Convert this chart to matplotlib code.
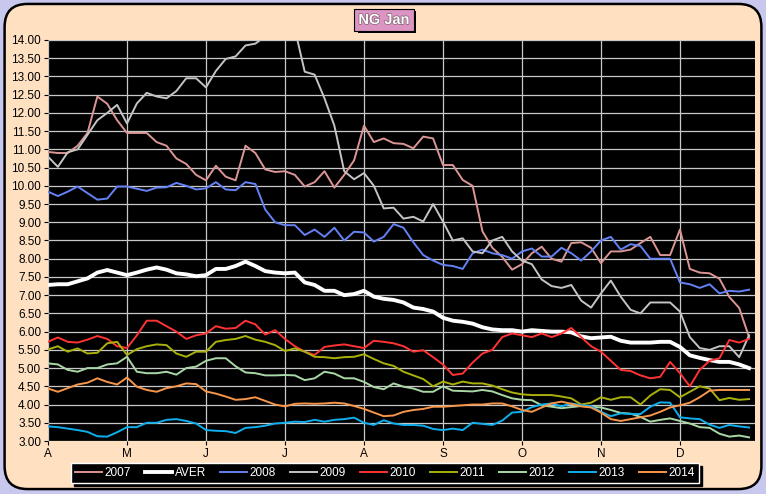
import numpy as np
import matplotlib
matplotlib.use("Agg")
import matplotlib.pyplot as plt
from matplotlib.patches import FancyBboxPatch, Rectangle
import matplotlib.patheffects as pe

# x in months from 1 April, sampled every 1/8 month
months = ['A', 'M', 'J', 'J', 'A', 'S', 'O', 'N', 'D']
x = np.arange(72) * 0.125

s2007 = [10.93, 10.9, 10.9, 11.1, 11.45, 12.45, 12.25, 11.8, 11.45, 11.45, 11.45, 11.2,
         11.1, 10.75, 10.6, 10.3, 10.15, 10.55, 10.25, 10.15, 11.1, 10.9, 10.45, 10.38,
         10.4, 10.3, 9.98, 10.1, 10.4, 9.95, 10.3, 10.7, 11.65, 11.2, 11.3, 11.17,
         11.15, 11.03, 11.35, 11.3, 10.57, 10.57, 10.16, 10.0, 8.75, 8.3, 8.05, 7.7,
         7.85, 8.15, 8.33, 8.0, 7.92, 8.43, 8.45, 8.3, 7.88, 8.2, 8.2, 8.25,
         8.43, 8.6, 8.1, 8.1, 8.8, 7.72, 7.62, 7.6, 7.45, 6.95, 6.65, 5.85]
aver = [7.28, 7.3, 7.3, 7.38, 7.46, 7.62, 7.69, 7.62, 7.55, 7.62, 7.7, 7.76,
        7.7, 7.6, 7.57, 7.52, 7.55, 7.72, 7.72, 7.8, 7.92, 7.8, 7.66, 7.62,
        7.6, 7.62, 7.35, 7.28, 7.12, 7.12, 7.0, 7.03, 7.12, 6.96, 6.9, 6.87,
        6.8, 6.66, 6.62, 6.55, 6.38, 6.3, 6.27, 6.22, 6.12, 6.06, 6.04, 6.04,
        6.0, 6.04, 6.02, 6.0, 6.0, 5.98, 5.87, 5.82, 5.84, 5.86, 5.75, 5.7,
        5.7, 5.7, 5.72, 5.72, 5.58, 5.35, 5.28, 5.22, 5.17, 5.17, 5.1, 5.0]
s2008 = [9.84, 9.72, 9.84, 9.98, 9.8, 9.62, 9.65, 9.98, 9.98, 9.92, 9.86, 9.95,
         9.96, 10.08, 10.0, 9.9, 9.93, 10.1, 9.9, 9.88, 10.1, 10.05, 9.35, 9.0,
         8.92, 8.92, 8.65, 8.8, 8.6, 8.85, 8.5, 8.74, 8.72, 8.47, 8.6, 8.95,
         8.85, 8.45, 8.1, 7.95, 7.83, 7.8, 7.72, 8.15, 8.25, 8.15, 8.1, 8.0,
         8.2, 8.28, 8.06, 8.06, 8.3, 8.15, 7.95, 8.2, 8.5, 8.6, 8.25, 8.4,
         8.35, 8.0, 8.0, 8.0, 7.35, 7.3, 7.2, 7.3, 7.05, 7.12, 7.1, 7.15]
s2009 = [10.8, 10.52, 10.92, 11.0, 11.4, 11.8, 12.0, 12.22, 11.71, 12.26, 12.55, 12.45,
         12.4, 12.6, 12.95, 12.95, 12.7, 13.15, 13.48, 13.55, 13.85, 13.9, 14.1, 14.3,
         14.4, 14.3, 13.13, 13.05, 12.4, 11.65, 10.4, 10.18, 10.35, 10.0, 9.38, 9.4,
         9.1, 9.15, 9.02, 9.5, 9.02, 8.5, 8.56, 8.2, 8.15, 8.5, 8.6, 8.2,
         7.95, 7.85, 7.43, 7.25, 7.2, 7.28, 6.85, 6.66, 7.05, 7.4, 6.96, 6.6,
         6.5, 6.8, 6.8, 6.8, 6.55, 5.85, 5.55, 5.5, 5.6, 5.6, 5.3, 5.9]
s2010 = [5.72, 5.84, 5.72, 5.7, 5.78, 5.88, 5.8, 5.6, 5.55, 5.9, 6.3, 6.3,
         6.15, 6.0, 5.8, 5.9, 5.95, 6.15, 6.08, 6.1, 6.3, 6.2, 5.92, 6.04,
         5.8, 5.6, 5.45, 5.36, 5.58, 5.62, 5.65, 5.6, 5.55, 5.75, 5.72, 5.68,
         5.6, 5.45, 5.49, 5.3, 5.1, 4.81, 4.85, 5.15, 5.4, 5.5, 5.85, 5.95,
         5.9, 5.85, 5.95, 5.85, 5.95, 6.1, 5.85, 5.6, 5.45, 5.2, 4.95, 4.92,
         4.8, 4.72, 4.76, 5.17, 4.86, 4.5, 4.95, 5.2, 5.27, 5.77, 5.7, 5.8]
s2011 = [5.51, 5.6, 5.45, 5.54, 5.4, 5.42, 5.68, 5.72, 5.36, 5.52, 5.6, 5.65,
         5.63, 5.4, 5.31, 5.45, 5.45, 5.72, 5.77, 5.8, 5.88, 5.78, 5.72, 5.63,
         5.47, 5.54, 5.45, 5.31, 5.3, 5.27, 5.3, 5.31, 5.38, 5.25, 5.13, 5.06,
         4.9, 4.8, 4.7, 4.5, 4.63, 4.55, 4.63, 4.58, 4.58, 4.52, 4.42, 4.33,
         4.28, 4.26, 4.26, 4.26, 4.22, 4.17, 4.0, 4.05, 4.2, 4.13, 4.2, 4.2,
         4.0, 4.25, 4.42, 4.4, 4.2, 4.35, 4.5, 4.44, 4.12, 4.18, 4.13, 4.15]
s2012 = [5.13, 5.1, 4.95, 4.9, 5.0, 5.0, 5.1, 5.13, 5.31, 4.9, 4.86, 4.86,
         4.9, 4.82, 5.0, 5.04, 5.2, 5.27, 5.27, 5.05, 4.88, 4.86, 4.8, 4.8,
         4.81, 4.8, 4.67, 4.72, 4.9, 4.85, 4.72, 4.72, 4.62, 4.48, 4.42, 4.58,
         4.49, 4.44, 4.35, 4.35, 4.5, 4.38, 4.37, 4.36, 4.4, 4.36, 4.26, 4.17,
         4.13, 4.12, 3.98, 3.94, 3.9, 3.93, 3.96, 3.94, 3.92, 3.85, 3.77, 3.75,
         3.66, 3.53, 3.58, 3.62, 3.55, 3.48, 3.38, 3.36, 3.2, 3.12, 3.15, 3.1]
s2013 = [3.4, 3.38, 3.34, 3.3, 3.25, 3.13, 3.12, 3.24, 3.38, 3.38, 3.5, 3.5,
         3.58, 3.6, 3.55, 3.48, 3.3, 3.28, 3.27, 3.22, 3.36, 3.38, 3.42, 3.48,
         3.5, 3.53, 3.52, 3.58, 3.53, 3.58, 3.6, 3.64, 3.5, 3.44, 3.57, 3.48,
         3.44, 3.44, 3.42, 3.33, 3.3, 3.34, 3.3, 3.5, 3.47, 3.44, 3.56, 3.78,
         3.8, 3.93, 4.0, 4.03, 3.95, 4.03, 3.98, 3.96, 3.8, 3.68, 3.76, 3.74,
         3.74, 3.94, 4.06, 4.05, 3.65, 3.62, 3.6, 3.45, 3.36, 3.44, 3.4, 3.37]
s2014 = [4.44, 4.35, 4.45, 4.55, 4.6, 4.72, 4.62, 4.55, 4.74, 4.49, 4.4, 4.35,
         4.45, 4.5, 4.58, 4.56, 4.36, 4.3, 4.22, 4.13, 4.15, 4.2, 4.1, 4.0,
         3.95, 4.02, 4.03, 4.02, 4.03, 4.05, 4.03, 3.96, 3.88, 3.78, 3.68, 3.7,
         3.8, 3.85, 3.88, 3.94, 3.94, 3.96, 3.98, 4.0, 4.0, 4.03, 4.03, 3.95,
         3.85, 3.8, 3.92, 4.03, 4.08, 4.02, 3.95, 3.92, 3.78, 3.6, 3.55, 3.6,
         3.65, 3.7, 3.8, 3.92, 3.98, 4.05, 4.2, 4.38, 4.4, 4.4, 4.4, 4.4]

series = [('2007', s2007, '#DA9694', 1.4),
          ('AVER', aver, 'white', 2.8),
          ('2008', s2008, '#6482F5', 1.4),
          ('2009', s2009, '#C4C4C4', 1.4),
          ('2010', s2010, '#FF3333', 1.4),
          ('2011', s2011, '#A9B10A', 1.4),
          ('2012', s2012, '#A9D8A6', 1.4),
          ('2013', s2013, '#10AEEC', 1.4),
          ('2014', s2014, '#F7964A', 1.4)]

plt.rcParams['font.family'] = ['Liberation Sans', 'DejaVu Sans']

fig = plt.figure(figsize=(7.66, 4.94), dpi=100)
fig.patch.set_facecolor('#C8C8EE')
# rounded peach frame behind everything
frame = FancyBboxPatch((0.006, 0.01), 0.988, 0.982, boxstyle='round,pad=0,rounding_size=0.03',
                       transform=fig.transFigure, facecolor='#FFE1C2', edgecolor='black',
                       linewidth=1.8, mutation_aspect=766 / 494, zorder=-10)
fig.patches.append(frame)

ax = fig.add_axes([48 / 766, 1 - 441 / 494, 707 / 766, 401 / 494])
ax.set_facecolor('black')

for name, vals, col, lw in series:
    ax.plot(x, vals, color=col, lw=lw, label=name, solid_joinstyle='round')

ax.set_xlim(0, 8.95)
ax.set_ylim(3, 14)
ax.set_yticks(np.arange(3, 14.01, 0.5))
ax.set_yticklabels([f'{v:.2f}' for v in np.arange(3, 14.01, 0.5)])
ax.set_xticks(np.arange(9))
ax.set_xticklabels(months)
ax.grid(True, color='#C8C8C8', lw=0.9)
ax.set_axisbelow(True)
for s in ax.spines.values():
    s.set_visible(False)
ax.tick_params(axis='both', labelsize=8.5, colors='black', length=3, width=0.8, pad=2)

# title box with a black drop shadow
fig.patches.append(Rectangle((358 / 766, 1 - 33 / 494), 58 / 766, 22 / 494,
                             transform=fig.transFigure, facecolor='black', zorder=1))
fig.text(384 / 766, 1 - 20 / 494, 'NG Jan', ha='center', va='center', fontsize=10.5,
         fontweight='bold', color='white', zorder=2,
         bbox=dict(boxstyle='square,pad=0.3', facecolor='#DC94C2', edgecolor='black', lw=0.8),
         path_effects=[pe.withStroke(linewidth=1, foreground='#806070')])

leg = fig.legend(loc='center', bbox_to_anchor=(385 / 766, 1 - 473 / 494), ncol=9,
                 frameon=True, fontsize=8.5, handlelength=2.3, handletextpad=0.2,
                 columnspacing=1.2, borderpad=0.35, fancybox=False,
                 shadow={'color': 'black', 'alpha': 1.0})
leg.get_frame().set_facecolor('black')
leg.get_frame().set_edgecolor('white')
leg.get_frame().set_linewidth(1.0)
for t in leg.get_texts():
    t.set_color('white')

fig.savefig('out.png', dpi=100, facecolor=fig.get_facecolor())
